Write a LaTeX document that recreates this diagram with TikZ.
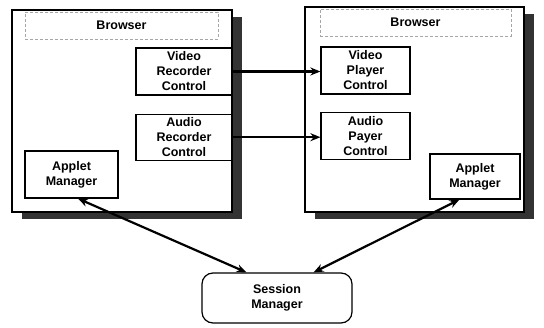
\documentclass[tikz,border=0pt]{standalone}
\usepackage{fontspec}
\setmainfont{Liberation Sans}
\usetikzlibrary{arrows.meta, positioning, shadows}

\begin{document}
\begin{tikzpicture}[
  x=1pt, y=-1pt,
  every node/.style={font=\bfseries\fontsize{12.5}{15}\selectfont, align=center, inner sep=0pt},
  browser/.style={rectangle, draw, line width=1.2pt, fill=white,
                  drop shadow={shadow xshift=10pt, shadow yshift=-7pt, fill=black!80, opacity=1}},
  header/.style ={rectangle, draw=gray!70, densely dashed, line width=0.6pt},
  ctrl/.style   ={rectangle, draw, line width=1.2pt, fill=white},
  sess/.style   ={rectangle, draw, line width=1.2pt, rounded corners=11pt},
  link/.style   ={-{Stealth[length=10pt, width=8pt]}, line width=2.2pt},
  dlink/.style  ={{Stealth[length=10pt, width=8pt]}-{Stealth[length=10pt, width=8pt]}, line width=2.2pt}
]
\useasboundingbox (0,0) rectangle (544,328);

% browser frames
\node[browser, minimum width=220pt, minimum height=202pt] (brL) at (122,111) {};
\node[browser, minimum width=219pt, minimum height=205pt] (brR) at (414.5,109.5) {};

\node[header, minimum width=193pt, minimum height=27pt] (hdrL) at (121.5,25.5) {Browser};
\node[header, minimum width=191pt, minimum height=27pt] (hdrR) at (415.5,22.5) {Browser};

% recorder side
\node[ctrl, minimum width=96pt, minimum height=47pt] (vrc) at (184,71.5) {Video\\Recorder\\Control};
\node[ctrl, minimum width=96pt, minimum height=46pt, below=18pt of vrc] (arc) {Audio\\Recorder\\Control};
\node[ctrl, minimum width=93pt, minimum height=47pt] (amL) at (71.5,174.5) {Applet\\Manager};

% player side
\node[ctrl, minimum width=89pt, minimum height=47pt] (vpc) at (365.5,70.5) {Video\\Player\\Control};
\node[ctrl, minimum width=89pt, minimum height=47pt, below=17pt of vpc] (apc) {Audio\\Payer\\Control};
\node[ctrl, minimum width=90pt, minimum height=45pt] (amR) at (475,176.5) {Applet\\Manager};

\node[sess, minimum width=150pt, minimum height=50pt] (sm) at (277,298) {Session\\Manager};

\draw[link] (vrc.east) -- (vrc.east -| vpc.west);
\draw[link] (arc.east) -- (arc.east -| apc.west);

\draw[dlink] (amL.-75)  -- (sm.140);
\draw[dlink] (amR.-124) -- (sm.35);

\end{tikzpicture}
\end{document}
